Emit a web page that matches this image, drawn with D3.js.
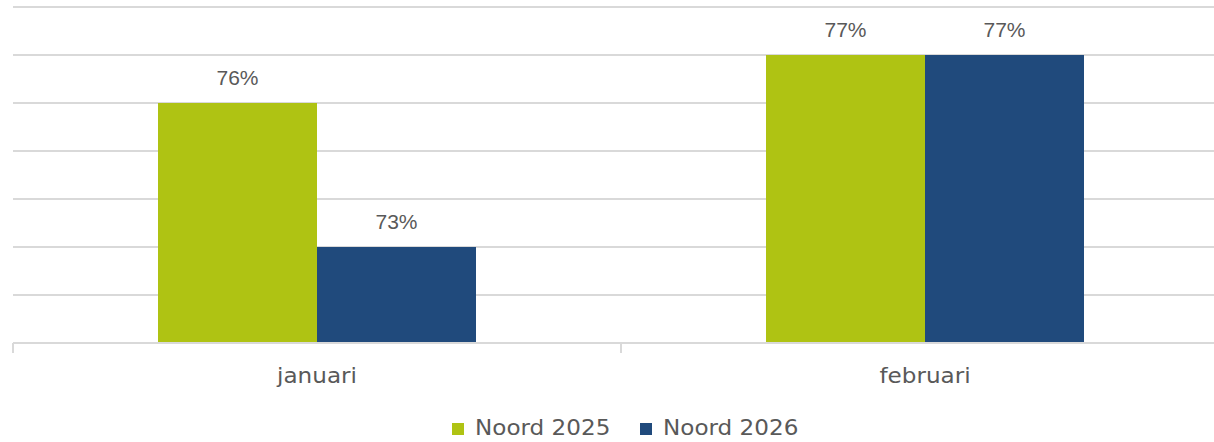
<!DOCTYPE html>
<html>
<head>
<meta charset="utf-8">
<script src="https://cdn.jsdelivr.net/npm/d3@7"></script>
<style>
  html, body { margin: 0; padding: 0; background: #fff; }
  svg { display: block; }
</style>
</head>
<body>
<svg id="chart" width="1214" height="442"></svg>
<script>
const categories = ["januari", "februari"];
const seriesNames = ["Noord 2025", "Noord 2026"];
const seriesColors = ["#AFC313", "#204A7C"];
const noord2025 = [76, 77];
const noord2026 = [73, 77];
const valueLabels2025 = ["76%", "77%"];
const valueLabels2026 = ["73%", "77%"];
const yTicks = [71, 72, 73, 74, 75, 76, 77, 78];

(function () {
const svg = d3.select("#chart");
const plotLeft = 13, plotRight = 1229, plotTop = 7, plotBottom = 343;

const x0 = d3.scaleBand().domain(categories).range([plotLeft, plotRight]).padding(0);
const bw = x0.bandwidth();
const x1 = d3.scaleBand().domain(seriesNames).range([bw * 0.2385, bw * 0.7615]).padding(0);
const y = d3.scaleLinear().domain([71, 78]).range([plotBottom, plotTop]);

// gridlines
svg.append("g").selectAll("line").data(yTicks.slice(1)).join("line")
  .attr("x1", plotLeft).attr("x2", 1214)
  .attr("y1", d => y(d)).attr("y2", d => y(d))
  .attr("stroke", "#d9d9d9").attr("stroke-width", 2);

const rows = categories.map((c, i) => ({
  cat: c,
  vals: [
    { s: seriesNames[0], v: noord2025[i], label: valueLabels2025[i], color: seriesColors[0] },
    { s: seriesNames[1], v: noord2026[i], label: valueLabels2026[i], color: seriesColors[1] }
  ]
}));

const groups = svg.append("g").selectAll("g").data(rows).join("g")
  .attr("transform", d => `translate(${x0(d.cat)},0)`);

groups.selectAll("rect").data(d => d.vals).join("rect")
  .attr("x", d => x1(d.s))
  .attr("width", x1.bandwidth())
  .attr("y", d => y(d.v))
  .attr("height", d => y(71) - y(d.v))
  .attr("fill", d => d.color);

groups.selectAll("text.val").data(d => d.vals).join("text")
  .attr("class", "val")
  .attr("x", d => x1(d.s) + x1.bandwidth() / 2)
  .attr("y", d => y(d.v) - 18)
  .attr("text-anchor", "middle")
  .attr("font-family", "'Liberation Sans', Arial, sans-serif")
  .attr("font-size", 21)
  .attr("fill", "#595959")
  .text(d => d.label);

// axis baseline and ticks
const axis = svg.append("g");
axis.append("line")
  .attr("x1", plotLeft).attr("x2", 1214)
  .attr("y1", plotBottom).attr("y2", plotBottom)
  .attr("stroke", "#d9d9d9").attr("stroke-width", 2);
axis.selectAll("line.tick").data(categories).join("line")
  .attr("class", "tick")
  .attr("x1", d => x0(d)).attr("x2", d => x0(d))
  .attr("y1", plotBottom).attr("y2", plotBottom + 10)
  .attr("stroke", "#d9d9d9").attr("stroke-width", 2);

axis.selectAll("text").data(categories).join("text")
  .attr("transform", d => `translate(${x0(d) + bw / 2},383) scale(1.1,1)`)
  .attr("text-anchor", "middle")
  .attr("font-family", "'DejaVu Sans', Verdana, sans-serif")
  .attr("font-size", 21)
  .attr("fill", "#595959")
  .text(d => d);

// legend
const legendX = [452, 640];
const leg = svg.append("g").selectAll("g").data(seriesNames).join("g")
  .attr("transform", (d, i) => `translate(${legendX[i]},0)`);
leg.append("rect").attr("x", 0).attr("y", 423).attr("width", 12).attr("height", 12)
  .attr("fill", (d, i) => seriesColors[i]);
leg.append("text")
  .attr("transform", "translate(23,435) scale(1.1,1)")
  .attr("font-family", "'DejaVu Sans', Verdana, sans-serif")
  .attr("font-size", 21)
  .attr("fill", "#595959")
  .text(d => d);
})();
</script>
</body>
</html>
